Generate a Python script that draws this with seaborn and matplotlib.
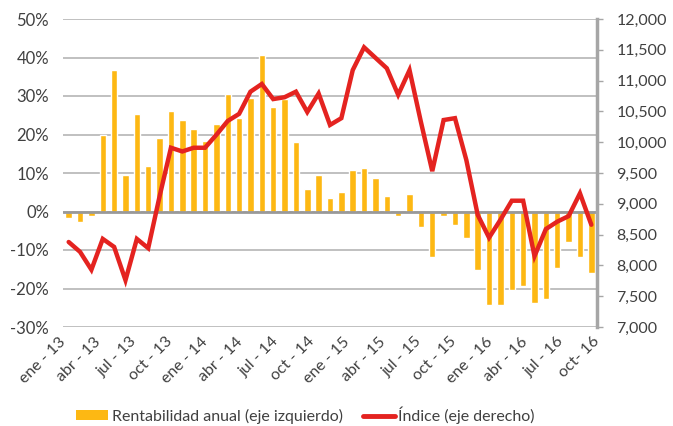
import numpy as np
import pandas as pd
import matplotlib
matplotlib.use("Agg")
import matplotlib.pyplot as plt
import matplotlib.ticker as mticker
from matplotlib.patches import Patch
from matplotlib.lines import Line2D
import seaborn as sns

sns.set_style("white")
plt.rcParams['font.family'] = ['Lato', 'DejaVu Sans']

# meses ene-13 ... nov-16
abrev = ['ene', 'feb', 'mar', 'abr', 'may', 'jun', 'jul', 'ago', 'sep', 'oct', 'nov', 'dic']
meses = [f"{m}-{a}" for a in range(13, 17) for m in abrev][:47]

# rentabilidad anual (%), eje izquierdo
rentabilidad = [-1.7, -2.7, -1.2, 19.9, 36.7, 9.4, 25.3, 11.8, 19.0, 26.2,
                23.8, 21.5, 18.4, 22.8, 30.5, 24.4, 29.6, 40.6, 27.2, 29.1,
                18.0, 5.9, 9.4, 3.6, 5.0, 10.8, 11.2, 8.8, 4.0, -1.2,
                4.6, -4.1, -11.8, -1.2, -3.5, -7.0, -15.1, -24.2, -24.2, -20.4,
                -19.4, -23.8, -22.8, -14.7, -7.9, -11.8, -16.0]

# índice, eje derecho
indice = [8380, 8220, 7930, 8430, 8300, 7760, 8430, 8280, 9120, 9910,
          9850, 9910, 9910, 10120, 10345, 10460, 10820, 10945, 10700, 10730,
          10820, 10490, 10790, 10280, 10390, 11170, 11540, 11370, 11200, 10770,
          11170, 10330, 9530, 10360, 10390, 9710, 8820, 8450, 8740, 9050,
          9050, 8150, 8590, 8710, 8800, 9170, 8660]

xlabels = ['ene - 13', 'abr - 13', 'jul - 13', 'oct - 13', 'ene - 14', 'abr - 14',
           'jul - 14', 'oct - 14', 'ene - 15', 'abr - 15', 'jul - 15', 'oct - 15',
           'ene - 16', 'abr - 16', 'jul - 16', 'oct- 16']

AMARILLO = '#FDB813'
ROJO = '#E42320'
GRIS = '#A6A6A6'
TEXTO = '#404040'

df = pd.DataFrame({'mes': meses, 'rentabilidad': rentabilidad, 'indice': indice})

fig = plt.figure(figsize=(6.73, 4.26), dpi=100)
ax = fig.add_axes([63 / 673, 1 - 327 / 426, 534 / 673, 308 / 426])
ax2 = ax.twinx()

sns.barplot(data=df, x='mes', y='rentabilidad', color=AMARILLO, saturation=1,
            width=0.57, ax=ax, zorder=2)
ax.axhline(0, color='#999999', linewidth=2, zorder=3)

sns.lineplot(x=np.arange(len(indice)), y=df['indice'], color=ROJO, linewidth=3.2,
             ax=ax2, solid_joinstyle='miter')

n = len(meses)
ax.set_xlim(-0.5, n - 0.5)
ax.set_ylim(-30, 50)
ax.set_yticks(np.arange(-30, 51, 10))
ax.yaxis.set_major_formatter(mticker.FuncFormatter(lambda v, p: f"{v:.0f}%"))
ax.yaxis.grid(True, color='#B5B5B5', linewidth=1.2)
ax.set_axisbelow(True)

ax2.set_ylim(7000, 12000)
ax2.set_yticks(np.arange(7000, 12001, 500))
ax2.yaxis.set_major_formatter(mticker.FuncFormatter(lambda v, p: f"{v:,.0f}"))

ax.set_xticks(np.linspace(-0.5, n - 0.5, len(xlabels)))
ax.set_xticklabels(xlabels, rotation=45, ha='right', va='center',
                   rotation_mode='anchor')
ax.set_xlabel('')
ax.set_ylabel('')
ax2.set_ylabel('')

for a in (ax, ax2):
    for s in ('top', 'left', 'bottom', 'right'):
        a.spines[s].set_visible(False)
ax2.spines['right'].set_visible(True)
ax2.spines['right'].set_color(GRIS)
ax2.spines['right'].set_linewidth(2.5)

ax.tick_params(axis='x', length=0, pad=9, labelsize=11.5, labelcolor=TEXTO)
ax.tick_params(axis='y', length=0, pad=10, labelsize=12, labelcolor=TEXTO)
ax2.tick_params(axis='y', direction='out', length=4, width=1, color=GRIS,
                pad=10, labelsize=11.5, labelcolor=TEXTO)

handles = [Patch(facecolor=AMARILLO, edgecolor='none'),
           Line2D([0], [0], color=ROJO, linewidth=3.5, solid_capstyle='round')]
fig.legend(handles, ['Rentabilidad anual (eje izquierdo)', 'Índice (eje derecho)'],
           loc='center left', bbox_to_anchor=(62 / 673, 1 - 415 / 426), ncol=2,
           frameon=False, fontsize=11.5, handlelength=2.0, handleheight=0.55,
           handletextpad=0.2, columnspacing=1.3, labelcolor=TEXTO)

fig.savefig('out.png', dpi=100)
